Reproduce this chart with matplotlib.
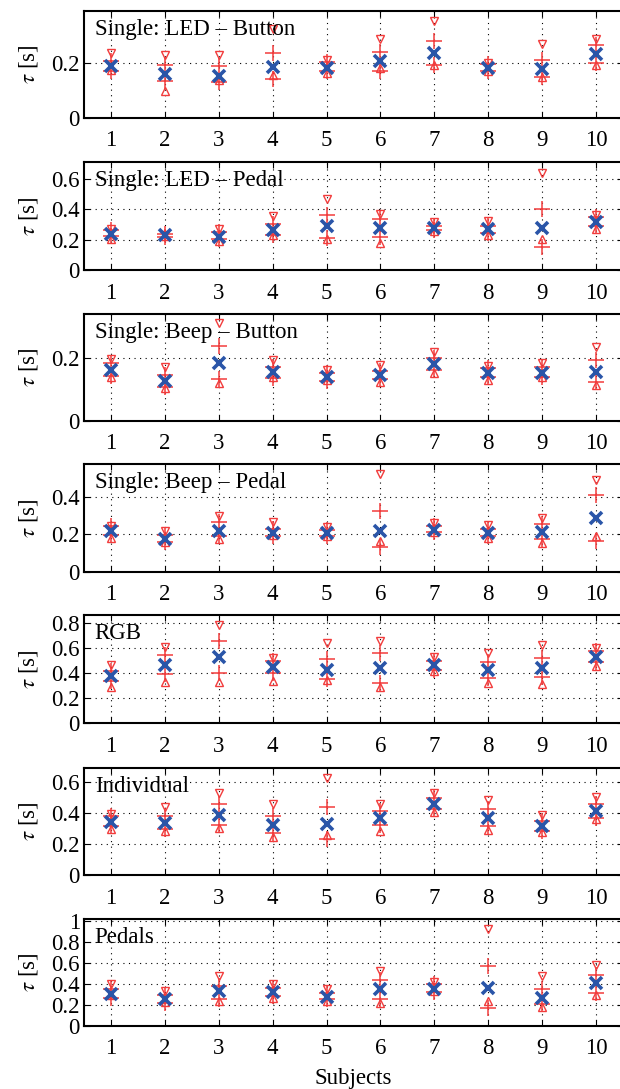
import numpy as np
import matplotlib.pyplot as plt
from matplotlib.ticker import FormatStrFormatter

plt.rcParams['font.family'] = ['Liberation Serif', 'DejaVu Serif']
plt.rcParams['mathtext.fontset'] = 'stix'

subjects = np.arange(1, 11)

titles = ['Single: LED – Button', 'Single: LED – Pedal', 'Single: Beep – Button',
          'Single: Beep – Pedal', 'RGB', 'Individual', 'Pedals']

# media (x azul)
mean_vals = [
    [0.188, 0.161, 0.153, 0.184, 0.182, 0.206, 0.237, 0.182, 0.178, 0.233],
    [0.239, 0.228, 0.217, 0.261, 0.287, 0.276, 0.276, 0.272, 0.276, 0.315],
    [0.163, 0.127, 0.184, 0.155, 0.141, 0.147, 0.181, 0.152, 0.154, 0.157],
    [0.218, 0.175, 0.218, 0.205, 0.205, 0.218, 0.223, 0.205, 0.211, 0.286],
    [0.379, 0.467, 0.528, 0.453, 0.427, 0.440, 0.467, 0.427, 0.440, 0.528],
    [0.345, 0.334, 0.388, 0.324, 0.328, 0.367, 0.457, 0.367, 0.317, 0.414],
    [0.302, 0.260, 0.333, 0.324, 0.279, 0.349, 0.356, 0.365, 0.270, 0.413],
]
# cruces rojas superiores
upper_vals = [
    [0.209, 0.193, 0.188, 0.237, 0.204, 0.239, 0.280, 0.196, 0.212, 0.265],
    [0.261, 0.239, 0.250, 0.304, 0.363, 0.337, 0.293, 0.293, 0.402, 0.348],
    [0.184, 0.147, 0.240, 0.173, 0.154, 0.160, 0.200, 0.168, 0.171, 0.195],
    [0.241, 0.196, 0.264, 0.229, 0.223, 0.325, 0.245, 0.229, 0.254, 0.411],
    [0.421, 0.547, 0.659, 0.501, 0.515, 0.560, 0.501, 0.493, 0.525, 0.581],
    [0.382, 0.382, 0.460, 0.382, 0.438, 0.416, 0.501, 0.425, 0.352, 0.457],
    [0.349, 0.292, 0.387, 0.359, 0.311, 0.438, 0.397, 0.572, 0.349, 0.486],
]
# cruces rojas inferiores
lower_vals = [
    [0.172, 0.133, 0.130, 0.142, 0.169, 0.172, 0.194, 0.172, 0.147, 0.200],
    [0.222, 0.217, 0.202, 0.233, 0.211, 0.217, 0.261, 0.243, 0.152, 0.287],
    [0.143, 0.109, 0.133, 0.136, 0.128, 0.133, 0.163, 0.141, 0.139, 0.125],
    [0.196, 0.157, 0.191, 0.188, 0.188, 0.129, 0.211, 0.188, 0.175, 0.164],
    [0.339, 0.392, 0.405, 0.405, 0.352, 0.325, 0.427, 0.360, 0.368, 0.493],
    [0.319, 0.298, 0.324, 0.270, 0.233, 0.324, 0.427, 0.317, 0.287, 0.371],
    [0.270, 0.222, 0.260, 0.286, 0.254, 0.260, 0.324, 0.175, 0.206, 0.317],
]
# triangulos hacia abajo
tri_down = [
    [0.237, 0.231, 0.231, 0.323, 0.212, 0.286, 0.353, 0.200, 0.270, 0.288],
    [0.267, 0.228, 0.272, 0.359, 0.467, 0.370, 0.315, 0.326, 0.637, 0.363],
    [0.197, 0.173, 0.312, 0.193, 0.163, 0.179, 0.221, 0.175, 0.186, 0.237],
    [0.246, 0.218, 0.295, 0.264, 0.236, 0.518, 0.259, 0.250, 0.286, 0.491],
    [0.467, 0.613, 0.787, 0.520, 0.645, 0.661, 0.533, 0.565, 0.627, 0.600],
    [0.393, 0.442, 0.529, 0.457, 0.630, 0.457, 0.529, 0.486, 0.388, 0.507],
    [0.406, 0.333, 0.476, 0.406, 0.349, 0.524, 0.419, 0.927, 0.476, 0.587],
]
# triangulos hacia arriba
tri_up = [
    [0.175, 0.096, 0.139, 0.157, 0.163, 0.182, 0.194, 0.169, 0.148, 0.191],
    [0.207, 0.222, 0.189, 0.228, 0.207, 0.180, 0.254, 0.228, 0.202, 0.267],
    [0.141, 0.104, 0.122, 0.141, 0.130, 0.125, 0.152, 0.130, 0.139, 0.114],
    [0.179, 0.157, 0.175, 0.193, 0.188, 0.164, 0.211, 0.179, 0.152, 0.188],
    [0.288, 0.333, 0.333, 0.341, 0.347, 0.288, 0.419, 0.325, 0.315, 0.459],
    [0.298, 0.285, 0.302, 0.248, 0.259, 0.285, 0.410, 0.291, 0.276, 0.363],
    [0.292, 0.229, 0.238, 0.270, 0.238, 0.222, 0.333, 0.238, 0.184, 0.292],
]

ylims = [0.39, 0.71, 0.342, 0.572, 0.867, 0.69, 1.02]
yticks = [[0, 0.2], [0, 0.2, 0.4, 0.6], [0, 0.2], [0, 0.2, 0.4],
          [0, 0.2, 0.4, 0.6, 0.8], [0, 0.2, 0.4, 0.6], [0, 0.2, 0.4, 0.6, 0.8, 1]]

# posiciones de los ejes en pixeles (arriba, abajo)
limites = [(11, 117.7), (162.3, 270), (314, 420.7), (464.3, 571.7),
           (615, 723.3), (768.3, 875), (919.3, 1026)]

W, H = 620, 1089
fig = plt.figure(figsize=(W / 100, H / 100), dpi=100)

rojo = '#f23c3c'
azul = '#2a55a8'

for i in range(7):
    top, bot = limites[i]
    ax = fig.add_axes([84 / W, 1 - bot / H, (623 - 84) / W, (bot - top) / H])
    ax.plot(subjects, upper_vals[i], '+', color=rojo, ms=11, mew=1.1, ls='none')
    ax.plot(subjects, lower_vals[i], '+', color=rojo, ms=11, mew=1.1, ls='none')
    ax.plot(subjects, tri_down[i], 'v', mfc='none', mec=rojo, ms=5.5, mew=1.0, ls='none')
    ax.plot(subjects, tri_up[i], '^', mfc='none', mec=rojo, ms=5.5, mew=1.0, ls='none')
    ax.plot(subjects, mean_vals[i], 'x', color=azul, ms=9, mew=2.6, ls='none')
    ax.set_xlim(0.5, 10.5)
    ax.set_ylim(0, ylims[i])
    ax.set_xticks(subjects)
    ax.set_yticks(yticks[i])
    ax.yaxis.set_major_formatter(FormatStrFormatter('%g'))
    ax.grid(True, color='black', linestyle=(0, (1, 4)), linewidth=0.8)
    ax.tick_params(direction='in', length=4, top=True, right=True, labelsize=16.5)
    ax.tick_params(axis='x', pad=9)
    ax.tick_params(axis='y', pad=3)
    for s in ax.spines.values():
        s.set_linewidth(1.5)
    ax.set_ylabel(r'$\tau$ [s]', fontsize=16.5, labelpad=8)
    ax.text(0.02, 1 - 8 / (bot - top), titles[i], transform=ax.transAxes,
            fontsize=16.5, va='top', ha='left')
    if i == 6:
        ax.set_xlabel('Subjects', fontsize=16.5, labelpad=6)

fig.savefig('out.png', dpi=100)
